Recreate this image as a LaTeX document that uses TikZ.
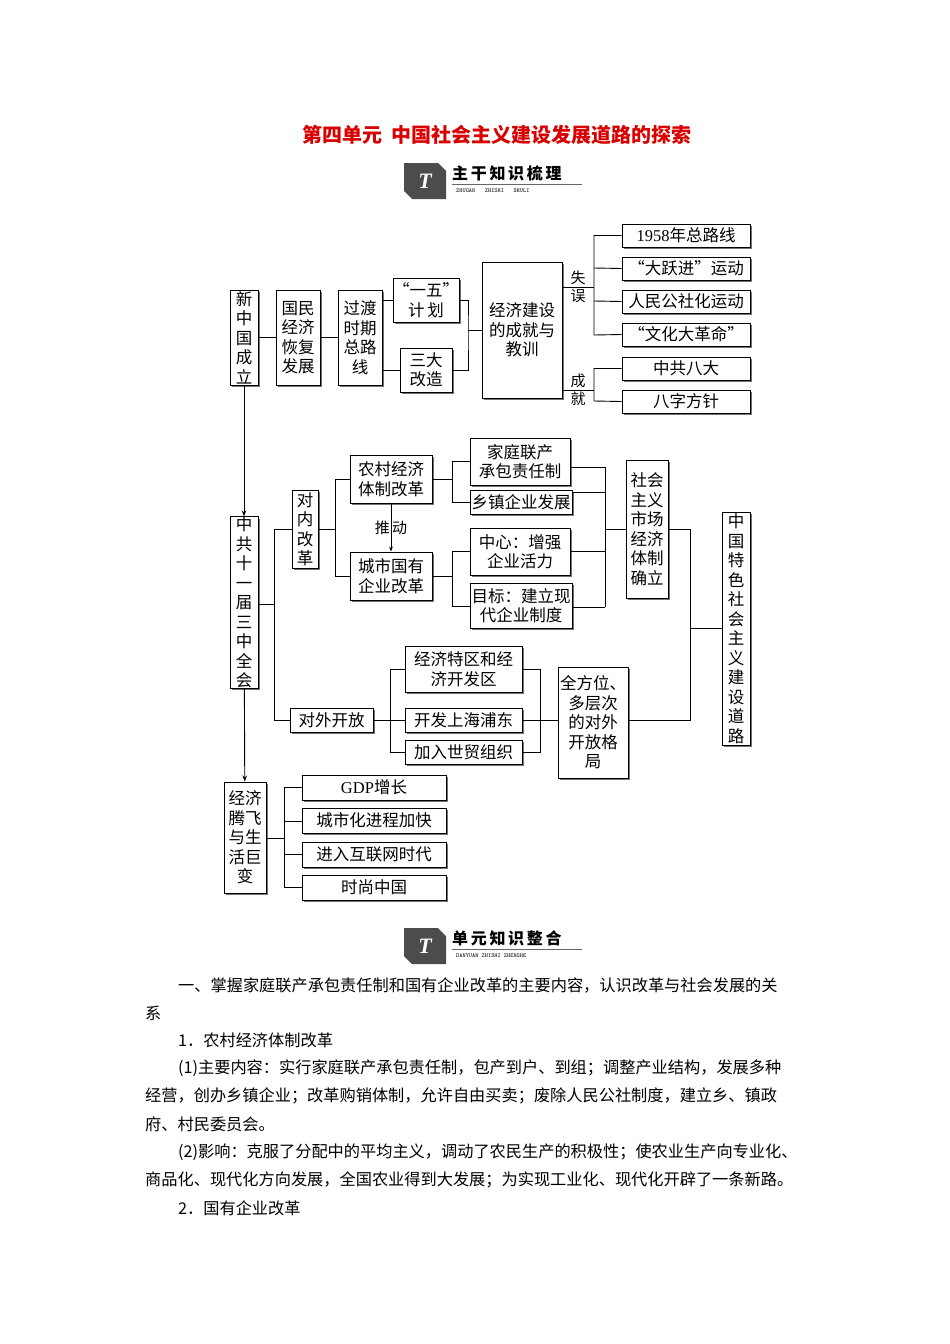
\documentclass[tikz,border=0pt]{standalone}
\usepackage{fontspec}
\setmainfont{Noto Sans CJK SC}
\newfontfamily\lat{Liberation Serif}
\usetikzlibrary{shadows,arrows.meta}
\tikzset{
  bx/.style={draw,line width=1pt,fill=white,inner sep=0pt,align=center,font=\fontsize{16.5}{19.5}\selectfont,
    drop shadow={shadow xshift=1.8pt,shadow yshift=-1.8pt,fill=black!55,opacity=1}},
  ln/.style={line width=0.9pt},
  lb/.style={font=\fontsize{15}{18}\selectfont,align=center},
  para/.style={anchor=west,inner sep=0pt,font=\fontsize{16.2}{18}\selectfont},
}
\newcommand\mybox[6]{\node[bx,minimum width={#4-#2},minimum height={#5-#3}] (#1) at ({(#2+#4)/2},{(#3+#5)/2}) {#6};}
\newcommand\mylogo[5]{%
  \fill[black!70] (#1,#2) -- ++(34,0) -- ++(8,8) -- ++(0,28) -- ++(-34,0) -- ++(-8,-8) -- cycle;
  \node[white,font=\bfseries\itshape\fontsize{22}{22}\selectfont] (lg#5) at (#1+21,#2+18) {\lat T};
  \node[anchor=west,inner sep=0pt,font=\bfseries\fontsize{16}{16}\selectfont] (lt#5) at (#1+48,#2+10) {#3};
  \draw[black!60] (#1+48,#2+21) -- (#1+178,#2+21);
  \node[anchor=west,inner sep=0pt,font=\ttfamily\fontsize{6}{6}\selectfont] (ls#5) at (#1+52,#2+28) {#4};
}
\begin{document}
\begin{tikzpicture}[x=1pt,y=-1pt]
\useasboundingbox (0,0) rectangle (950,1344);
\node[red!85!black,font=\bfseries\fontsize{20}{22}\selectfont] (title) at (497,135) {第四单元\ \ 中国社会主义建设发展道路的探索};
\mylogo{404}{163}{主\,干\,知\,识\,梳\,理}{ZHUGAN\ \ \ ZHISHI\ \ \ SHULI}{A}
\mylogo{404}{928}{单\,元\,知\,识\,整\,合}{DANYUAN ZHISHI ZHENGHE}{B}

% top row
\mybox{a}{230}{290}{258}{385}{新\\中\\国\\成\\立}
\mybox{b}{276}{290}{320}{385}{国民\\经济\\恢复\\发展}
\mybox{c}{338}{290}{382}{385}{过渡\\时期\\总路\\线}
\mybox{d}{400}{278}{452}{322}{“一五”\\计\,划}
\mybox{e}{400}{348}{452}{392}{三大\\改造}
\mybox{f}{482}{262}{562}{398}{经济建设\\的成就与\\教训}
\mybox{r1}{622}{224}{750}{247}{\lat 1958\rmfamily 年总路线}
\mybox{r2}{622}{257}{750}{280}{“大跃进”运动}
\mybox{r3}{622}{290}{750}{313}{人民公社化运动}
\mybox{r4}{622}{323}{750}{346}{“文化大革命”}
\mybox{r5}{622}{357}{750}{380}{中共八大}
\mybox{r6}{622}{390}{750}{413}{八字方针}
\node[lb] (sw) at (578,287) {失\\误};
\node[lb] (cj) at (578,390) {成\\就};
\draw[ln] (a) -- (b); \draw[ln] (b) -- (c);
\draw[ln] (c.east |- d) -- (d.west); \draw[ln] (c.east |- e) -- (e.west);
\draw[ln] (d.east) -| (468,330) |- (e.east); \draw[ln] (468,330) -- (f.west |- 0,330);
\draw[ln] (f.east |- 0,287) -- (594,287);
\draw[ln] (r1.west) -| (594,335) -- (r4.west);
\draw[ln] (594,268) -- (r2.west); \draw[ln] (594,301) -- (r3.west);
\draw[ln] (f.east |- 0,390) -- (594,390);
\draw[ln] (r5.west) -| (594,401) -- (r6.west);

% middle
\mybox{g}{230}{520}{258}{685}{中\\共\\十\\一\\届\\三\\中\\全\\会}
\mybox{h}{292}{490}{318}{568}{对\\内\\改\\革}
\mybox{i}{350}{455}{432}{503}{农村经济\\体制改革}
\mybox{j}{350}{552}{432}{600}{城市国有\\企业改革}
\node[lb] (td) at (391,528) {推\,动};
\mybox{k1}{470}{438}{570}{485}{家庭联产\\承包责任制}
\mybox{k2}{470}{490}{572}{514}{乡镇企业发展}
\mybox{k3}{470}{528}{570}{575}{中心：增强\\企业活力}
\mybox{k4}{470}{583}{572}{628}{目标：建立现\\代企业制度}
\mybox{m}{626}{460}{668}{598}{社会\\主义\\市场\\经济\\体制\\确立}
\mybox{n}{722}{512}{750}{745}{中\\国\\特\\色\\社\\会\\主\\义\\建\\设\\道\\路}
\mybox{o}{290}{708}{373}{732}{对外开放}
\mybox{p1}{405}{646}{522}{692}{经济特区和经\\济开发区}
\mybox{p2}{405}{708}{522}{732}{开发上海浦东}
\mybox{p3}{405}{740}{522}{764}{加入世贸组织}
\mybox{q}{558}{667}{628}{778}{全方位、\\多层次\\的对外\\开放格\\局}
\mybox{s}{224}{782}{266}{893}{经济\\腾飞\\与生\\活巨\\变}
\mybox{t1}{302}{775}{446}{800}{\lat GDP\rmfamily 增长}
\mybox{t2}{302}{808}{446}{833}{城市化进程加快}
\mybox{t3}{302}{842}{446}{867}{进入互联网时代}
\mybox{t4}{302}{875}{446}{900}{时尚中国}

\draw[ln,-{Stealth[length=6pt]}] (a) -- (g);
\draw[ln,-{Stealth[length=6pt]}] (g) -- (s);
\draw[ln] (g.east |- 0,604) -- (274,604);
\draw[ln] (h.west |- 0,529) -| (274,720) -- (o.west);
\draw[ln] (h.east |- 0,529) -- (335,529);
\draw[ln] (i.west |- 0,479) -| (335,576) -- (j.west |- 0,576);
\draw[ln,-{Stealth[length=5pt]}] (i) -- (j);
\draw[ln] (k1.west |- 0,461) -| (452,502) -- (k2.west);
\draw[ln] (i.east) -- (452,479);
\draw[ln] (k3.west |- 0,551) -| (452,606) -- (k4.west |- 0,606);
\draw[ln] (j.east) -- (452,576);
\draw[ln] (k1.east |- 0,467) -| (605,492) -- (k2.east |- 0,492);
\draw[ln] (605,467) -- (605,607);
\draw[ln] (k3.east |- 0,551) -- (605,551);
\draw[ln] (k4.east |- 0,607) -- (605,607);
\draw[ln] (605,529) -- (m.west |- 0,529);
\draw[ln] (m.east |- 0,529) -- (690,529) -- (690,720) -- (q.east |- 0,720);
\draw[ln] (690,628) -- (n.west |- 0,628);
\draw[ln] (o.east) -- (390,720);
\draw[ln] (p1.west |- 0,669) -| (390,752) -- (p3.west |- 0,752);
\draw[ln] (390,720) -- (p2.west);
\draw[ln] (p1.east |- 0,669) -| (540,752) -- (p3.east |- 0,752);
\draw[ln] (p2.east) -- (q.west |- 0,720);
\draw[ln] (s.east |- 0,838) -- (284,838);
\draw[ln] (t1.west |- 0,787) -| (284,887) -- (t4.west |- 0,887);
\draw[ln] (284,821) -- (t2.west |- 0,821);
\draw[ln] (284,854) -- (t3.west |- 0,854);

% text
\node[para] (l1) at (178,985) {一、掌握家庭联产承包责任制和国有企业改革的主要内容，认识改革与社会发展的关};
\node[para] (l2) at (145,1013) {系};
\node[para] (l3) at (178,1040) {1．农村经济体制改革};
\node[para] (l4) at (178,1068) {(1)主要内容：实行家庭联产承包责任制，包产到户、到组；调整产业结构，发展多种};
\node[para] (l5) at (145,1096) {经营，创办乡镇企业；改革购销体制，允许自由买卖；废除人民公社制度，建立乡、镇政};
\node[para] (l6) at (145,1124) {府、村民委员会。};
\node[para] (l7) at (178,1152) {(2)影响：克服了分配中的平均主义，调动了农民生产的积极性；使农业生产向专业化、};
\node[para] (l8) at (145,1180) {商品化、现代化方向发展，全国农业得到大发展；为实现工业化、现代化开辟了一条新路。};
\node[para] (l9) at (178,1208) {2．国有企业改革};
\end{tikzpicture}
\end{document}
